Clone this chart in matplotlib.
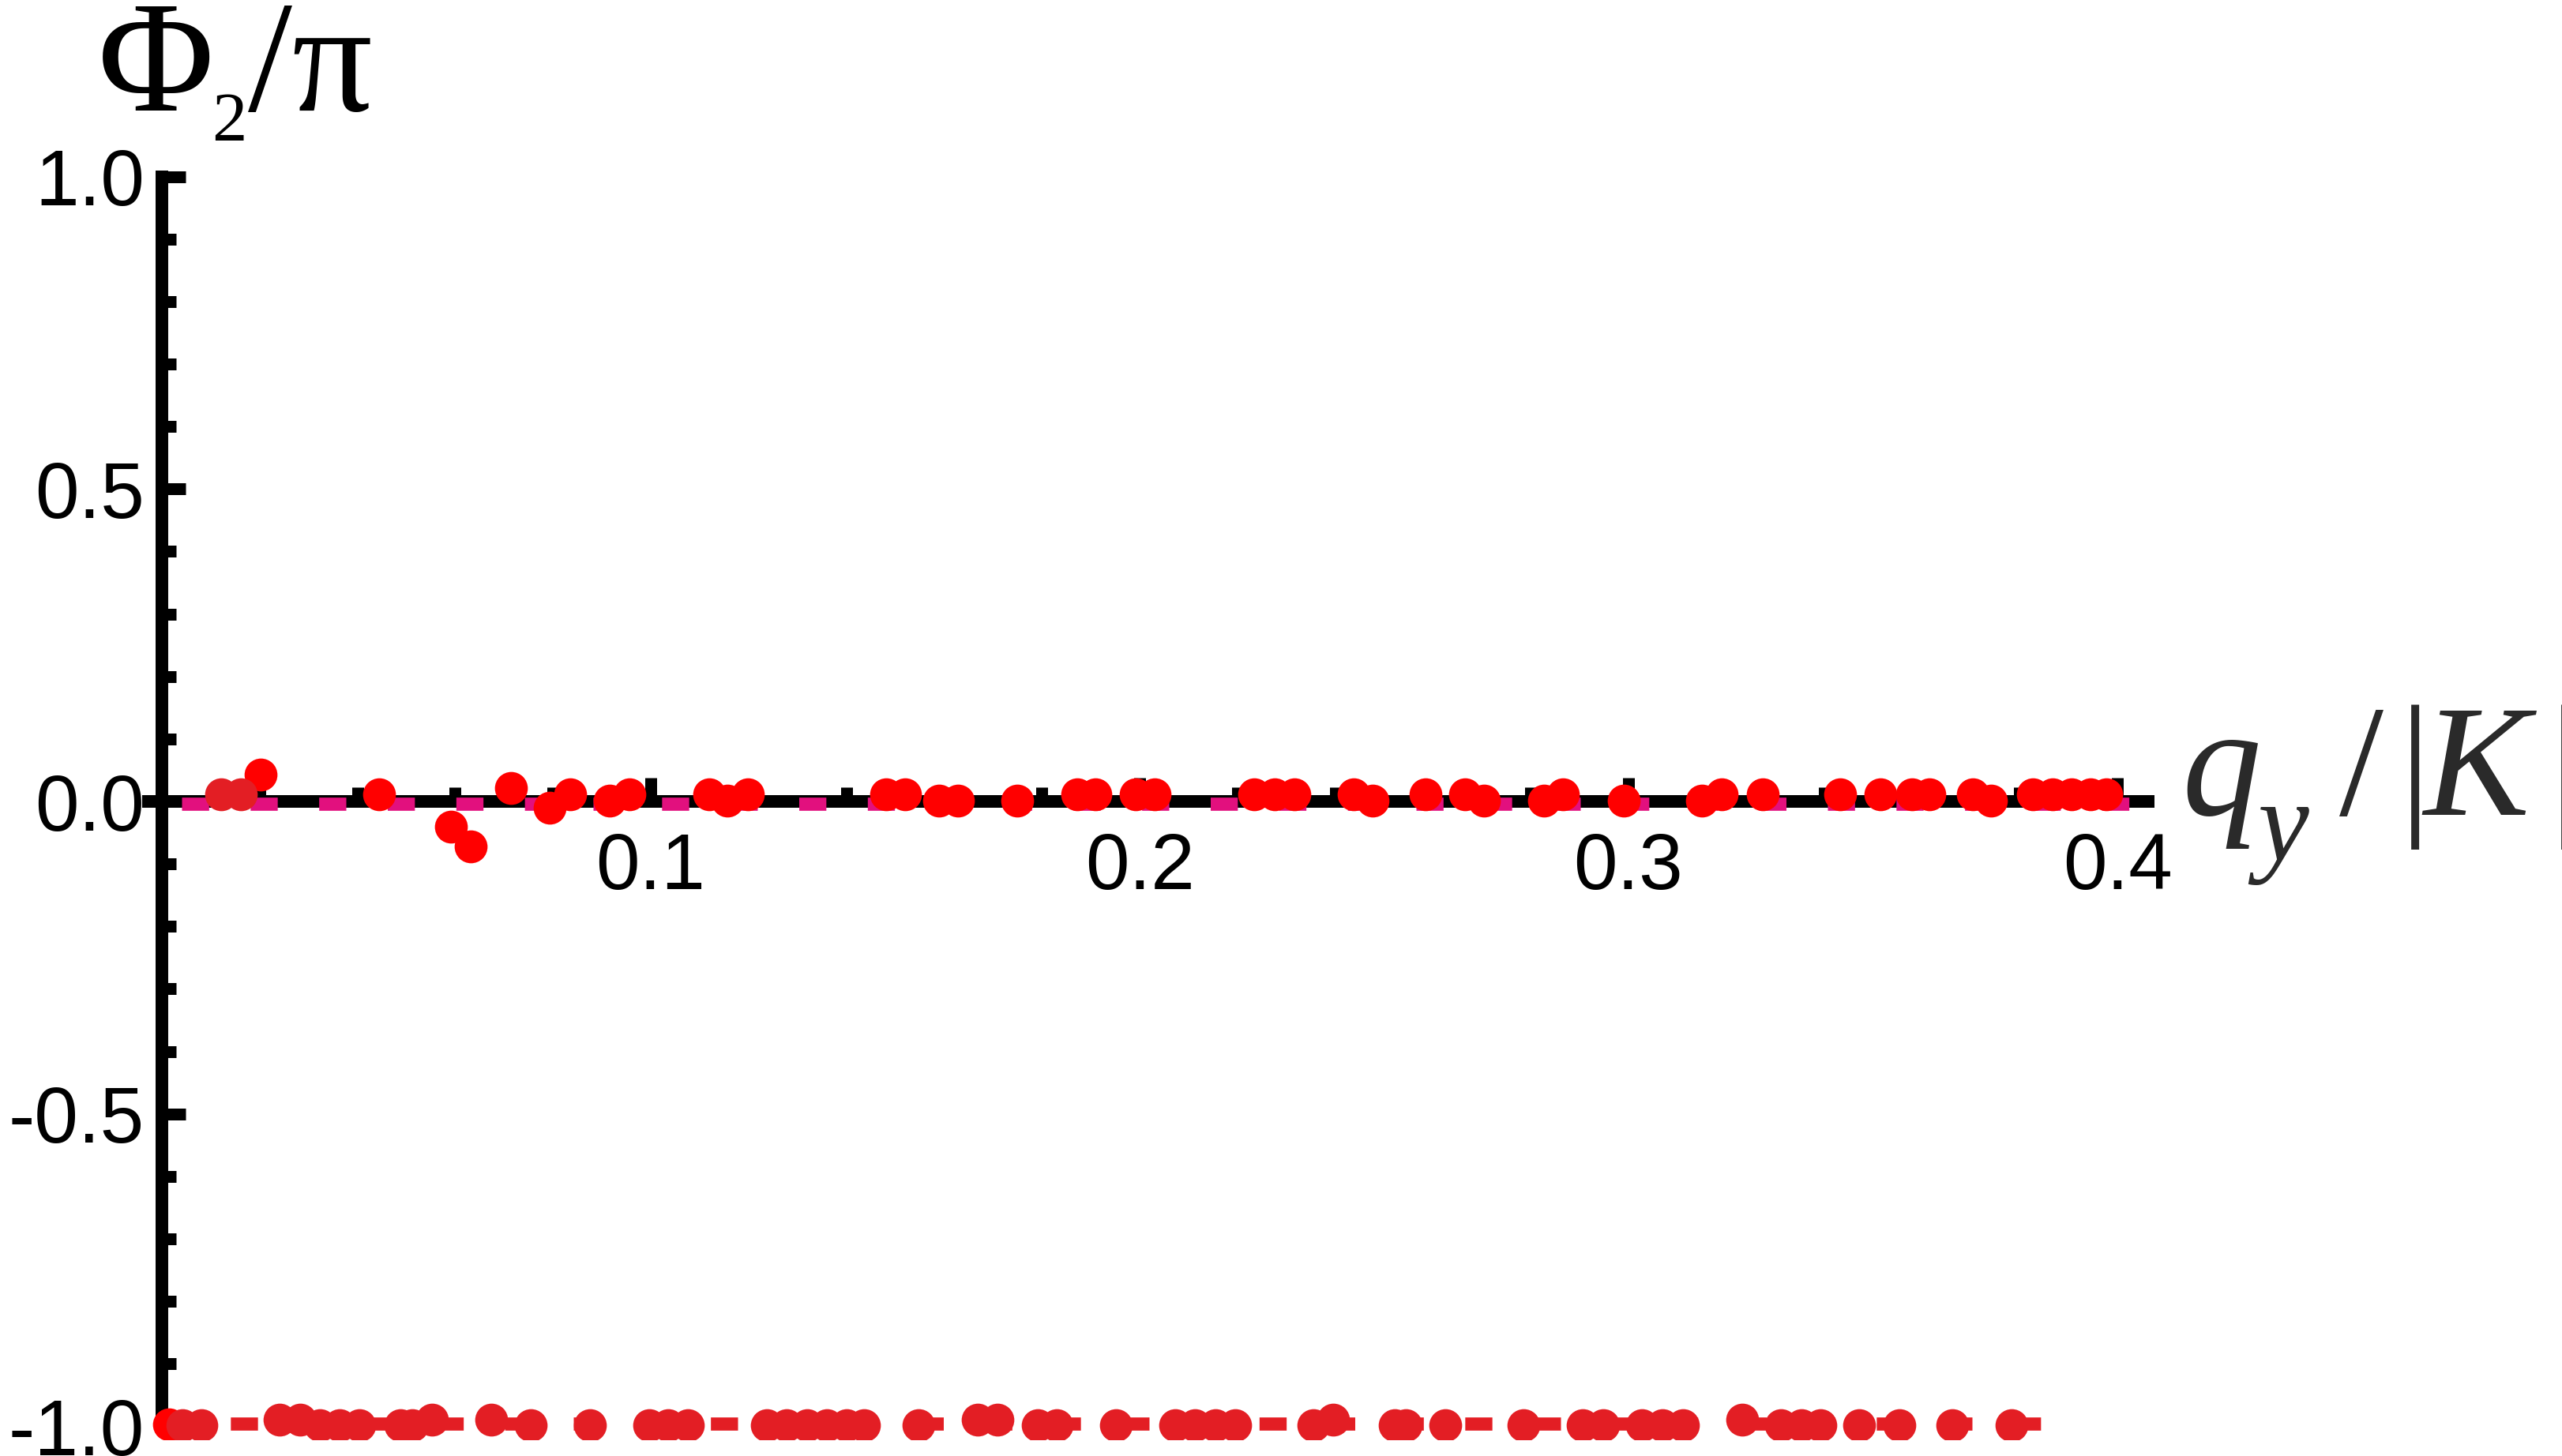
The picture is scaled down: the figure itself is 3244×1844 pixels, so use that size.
import matplotlib.pyplot as plt
from matplotlib.ticker import FixedLocator, FixedFormatter

# red points (Phi_2 / pi near 0)
red_x = [0.0015, 0.0202, 0.0444, 0.0591, 0.0632, 0.0714, 0.0794, 0.0835, 0.0916, 0.0956,
         0.1119, 0.1157, 0.1198, 0.1482, 0.1520, 0.1589, 0.1628, 0.1750, 0.1872, 0.1910,
         0.1992, 0.2031, 0.2235, 0.2276, 0.2317, 0.2438, 0.2477, 0.2585, 0.2665, 0.2704,
         0.2827, 0.2866, 0.2990, 0.3150, 0.3191, 0.3274, 0.3433, 0.3515, 0.3580, 0.3615,
         0.3704, 0.3742, 0.3827, 0.3868, 0.3907, 0.3945, 0.3978]
red_y = [-0.997, 0.043, 0.011, -0.041, -0.072, 0.022, -0.010, 0.011, 0.001, 0.011,
         0.011, 0.001, 0.011, 0.011, 0.011, 0.001, 0.001, 0.001, 0.011, 0.011,
         0.011, 0.011, 0.011, 0.011, 0.011, 0.011, 0.001, 0.011, 0.011, 0.001,
         0.001, 0.011, 0.001, 0.001, 0.011, 0.011, 0.011, 0.011, 0.011, 0.011,
         0.011, 0.001, 0.011, 0.011, 0.011, 0.011, 0.011]

# crimson points (mostly at -1)
crim_x = [0.0121, 0.0162,
          0.0042, 0.0081, 0.0241, 0.0282, 0.0323, 0.0364, 0.0404, 0.0488, 0.0512, 0.0552,
          0.0674, 0.0754, 0.0875, 0.0996, 0.1036, 0.1076, 0.1238, 0.1278, 0.1320, 0.1360,
          0.1400, 0.1436, 0.1547, 0.1669, 0.1710, 0.1791, 0.1830, 0.1951, 0.2072, 0.2113,
          0.2155, 0.2195, 0.2355, 0.2396, 0.2522, 0.2544, 0.2625, 0.2785, 0.2907, 0.2948,
          0.3027, 0.3070, 0.3111, 0.3232, 0.3312, 0.3353, 0.3392, 0.3472, 0.3554, 0.3662,
          0.3783]
crim_y = [0.012, 0.012,
          -0.998, -0.998, -0.989, -0.989, -0.998, -0.998, -0.998, -0.998, -0.998, -0.989,
          -0.989, -0.998, -0.998, -0.998, -0.998, -0.998, -0.998, -0.998, -0.998, -0.998,
          -0.998, -0.998, -0.998, -0.989, -0.989, -0.998, -0.998, -0.998, -0.998, -0.998,
          -0.998, -0.998, -0.998, -0.989, -0.998, -0.998, -0.998, -0.998, -0.998, -0.998,
          -0.998, -0.998, -0.998, -0.989, -0.998, -0.998, -0.998, -0.998, -0.998, -0.998,
          -0.998]

# dashed reference lines
magenta_x = [0.004, 0.4063]
magenta_y = [-0.004, -0.004]
crimline_x = [0.0, 0.3879]
crimline_y = [-0.9955, -0.9955]

x_major = [0.1, 0.2, 0.3, 0.4]
x_labels = ["0.1", "0.2", "0.3", "0.4"]
x_minor = [0.02, 0.04, 0.06, 0.08, 0.12, 0.14, 0.16, 0.18, 0.22, 0.24, 0.26, 0.28,
           0.32, 0.34, 0.36, 0.38]
y_major = [-1.0, -0.5, 0.0, 0.5, 1.0]
y_labels = ["-1.0", "-0.5", "0.0", "0.5", "1.0"]
y_minor = [-0.9, -0.8, -0.7, -0.6, -0.4, -0.3, -0.2, -0.1, 0.1, 0.2, 0.3, 0.4,
           0.6, 0.7, 0.8, 0.9]

W, H = 3244, 1844
RED = "#FF0000"
CRIMSON = "#E31E24"
MAGENTA = "#E2107E"

fig = plt.figure(figsize=(W / 100, H / 100), dpi=100)
L, R, T, B = 188, 2725, 195, 1823
ax = fig.add_axes([L / W, 1 - B / H, (R - L) / W, (B - T) / H])
ax.set_xlim((L - 205) / 6190, (R - 205) / 6190)
ax.set_ylim(-(B - 1015) / 791.3, (1015 - T) / 791.3)
ax.patch.set_visible(False)

lw = 12.0
ax.plot(magenta_x, magenta_y, color=MAGENTA, lw=lw, dashes=(2.06, 3.15), zorder=3)
ax.plot(crimline_x, crimline_y, color=CRIMSON, lw=lw, dashes=(2.06, 3.15), zorder=3)
ax.plot(red_x, red_y, "o", color=RED, ms=30, mew=0, zorder=4)
ax.plot(crim_x, crim_y, "o", color=CRIMSON, ms=30, mew=0, zorder=5)

for s in ["top", "right"]:
    ax.spines[s].set_visible(False)
ax.spines["left"].set_position(("data", 0))
ax.spines["bottom"].set_position(("data", 0))
ax.spines["left"].set_bounds(-1, 1)
ax.spines["bottom"].set_bounds((L - 205) / 6190, 0.4063)
for s in ["left", "bottom"]:
    ax.spines[s].set_linewidth(11.5)
    ax.spines[s].set_zorder(1)
ax.set_axisbelow(True)

ax.xaxis.set_major_locator(FixedLocator(x_major))
ax.xaxis.set_major_formatter(FixedFormatter(x_labels))
ax.xaxis.set_minor_locator(FixedLocator(x_minor))
ax.yaxis.set_major_locator(FixedLocator(y_major))
ax.yaxis.set_major_formatter(FixedFormatter(y_labels))
ax.yaxis.set_minor_locator(FixedLocator(y_minor))
ax.tick_params(which="major", direction="in", length=21.6, width=10.8,
               labelsize=72, labelfontfamily="Liberation Sans")
ax.tick_params(which="minor", direction="in", length=13, width=10.8)
ax.tick_params(axis="x", which="major", pad=27)
ax.tick_params(axis="y", which="major", pad=16)


def px_text(px, py, s, **kw):
    fig.text(px / W, 1 - py / H, s, ha="left", va="baseline",
             family="Liberation Serif", **kw)


# y label  Phi_2 / pi
px_text(124, 140, "\u03a6", fontsize=145)
px_text(268, 178, "2", fontsize=64)
px_text(314, 140, "/\u03c0", fontsize=145)

# x label  q_y / |K|
lab = "#2a2a2a"
px_text(2762, 1032, "q", fontsize=145, style="italic", color=lab)
px_text(2858, 1090, "y", fontsize=105, style="italic", color=lab)
px_text(2962, 1032, "/", fontsize=145, color=lab)
px_text(3038, 1032, "|", fontsize=145, color=lab)
px_text(3068, 1032, "K", fontsize=145, style="italic", color=lab)
px_text(3228, 1032, "|", fontsize=145, color=lab)

fig.savefig("out.png", dpi=100)
